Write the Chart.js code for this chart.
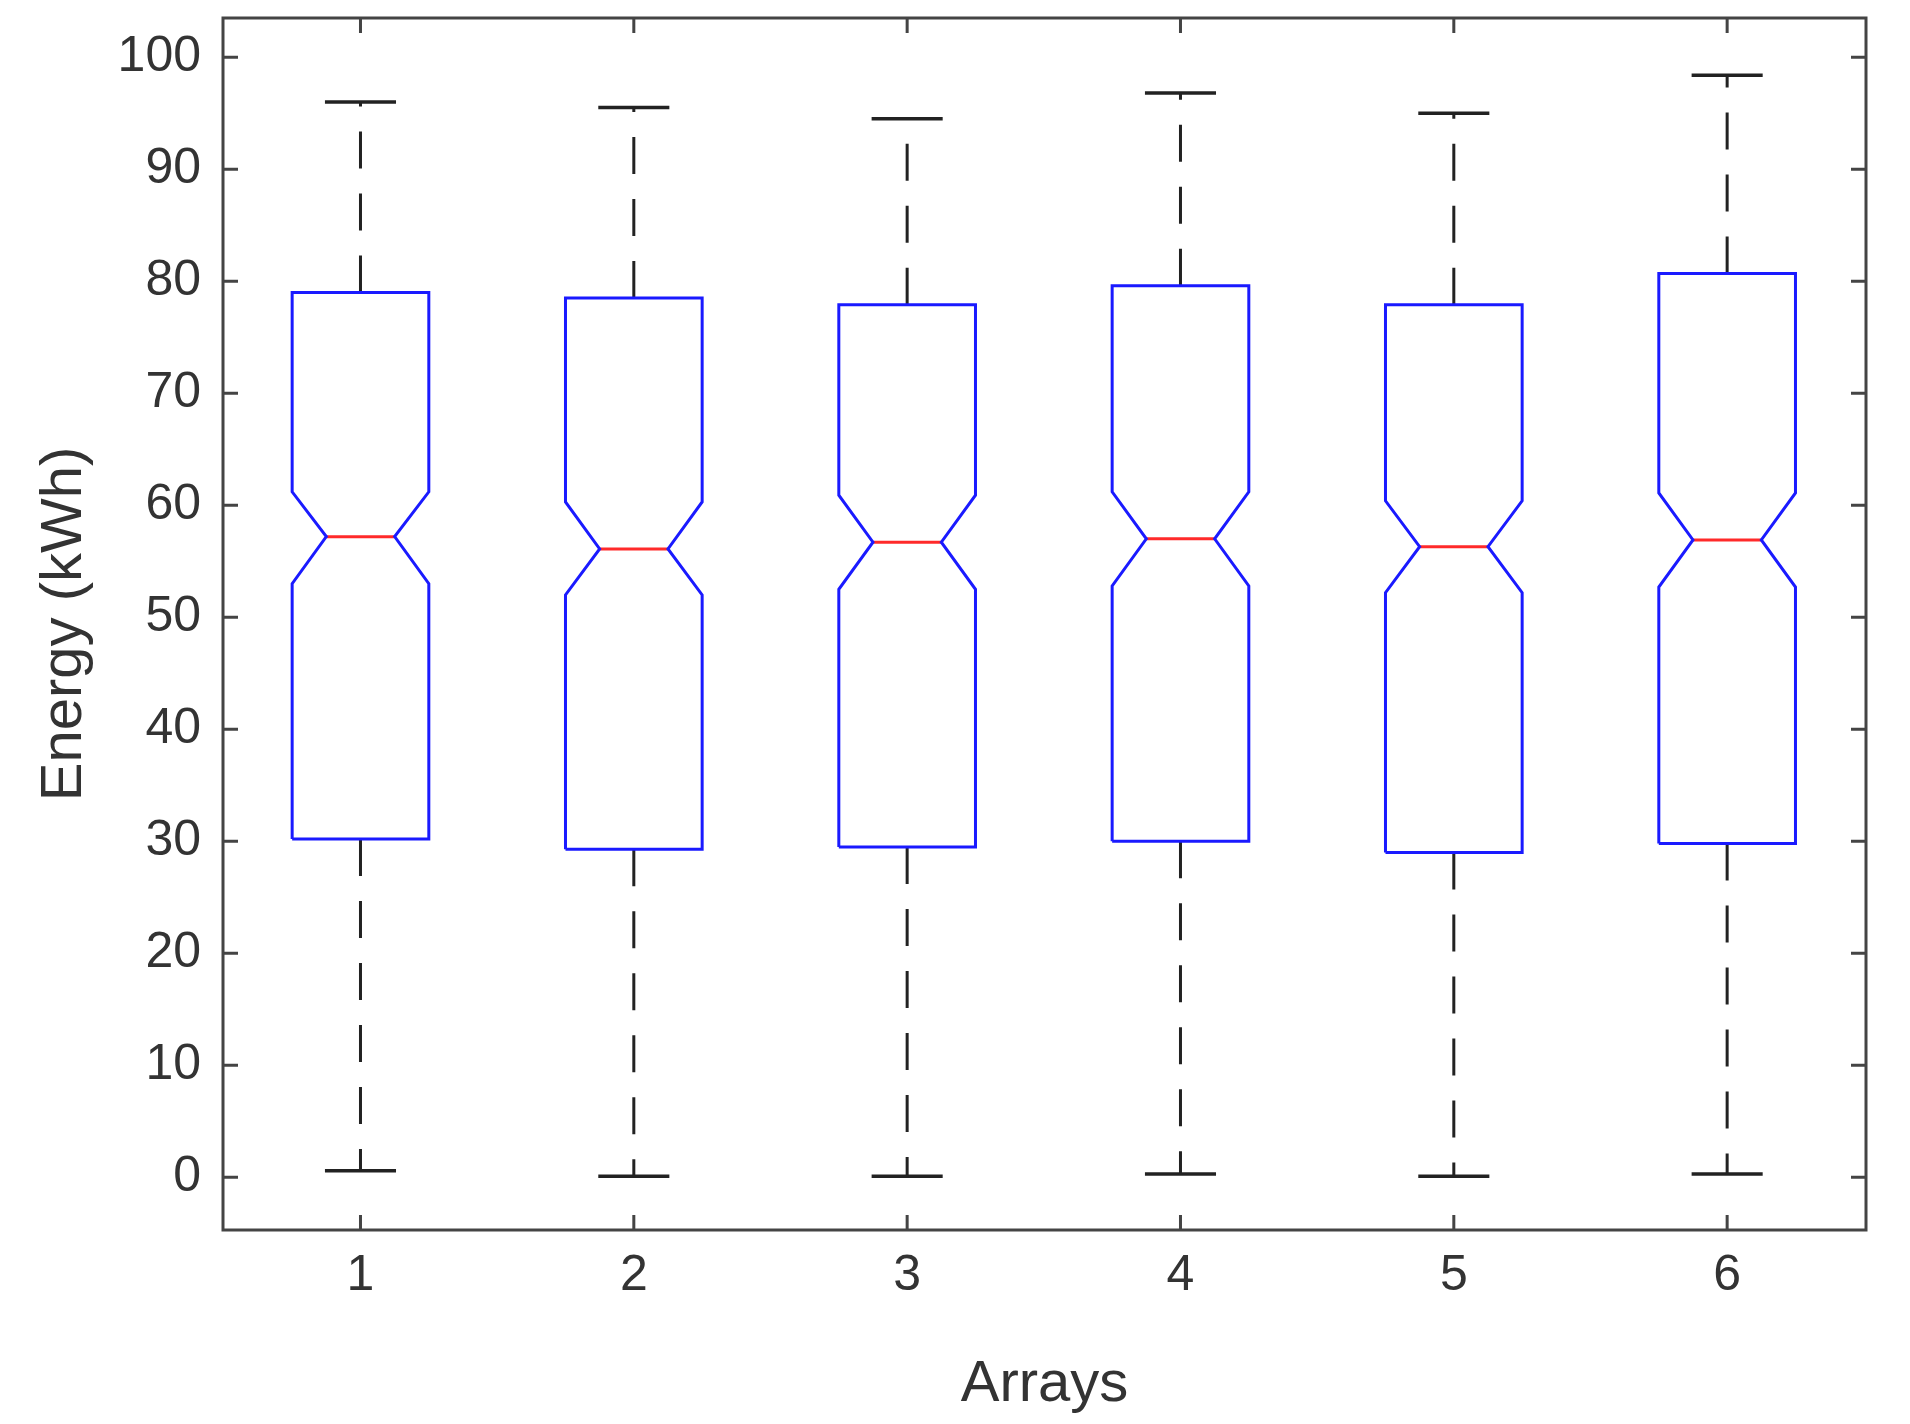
<!DOCTYPE html>
<html>
<head>
<meta charset="utf-8">
<script src="https://cdn.jsdelivr.net/npm/chart.js@4.4.0/dist/chart.umd.min.js"></script>
<style>
  html, body { margin: 0; padding: 0; background: #fff; }
  #wrap { width: 1910px; height: 1424px; }
</style>
</head>
<body>
<div id="wrap"><canvas id="c" width="1910" height="1424"></canvas></div>
<script>
const categories = [1, 2, 3, 4, 5, 6];
const mins    = [0.6, 0.1, 0.1, 0.3, 0.1, 0.3];
const q1s     = [30.2, 29.3, 29.5, 30.0, 29.0, 29.8];
const notchLo = [53.0, 52.0, 52.5, 52.8, 52.2, 52.7];
const medians = [57.2, 56.1, 56.7, 57.0, 56.3, 56.9];
const notchHi = [61.2, 60.3, 60.9, 61.2, 60.4, 61.1];
const q3s     = [79.0, 78.5, 77.9, 79.6, 77.9, 80.7];
const maxs    = [96.0, 95.5, 94.5, 96.8, 95.0, 98.4];
const yTicks = [0, 10, 20, 30, 40, 50, 60, 70, 80, 90, 100];

const halfW = 0.25, notchW = 0.125, capW = 0.13;
const datasets = [];
const line = (data, color, dash, width) => ({
  data, showLine: true, borderColor: color, borderWidth: width || 3,
  borderDash: dash || [], pointRadius: 0, fill: false, tension: 0
});

categories.forEach((c, i) => {
  datasets.push(line([
    { x: c - halfW, y: q1s[i] }, { x: c + halfW, y: q1s[i] },
    { x: c + halfW, y: notchLo[i] }, { x: c + notchW, y: medians[i] },
    { x: c + halfW, y: notchHi[i] }, { x: c + halfW, y: q3s[i] },
    { x: c - halfW, y: q3s[i] }, { x: c - halfW, y: notchHi[i] },
    { x: c - notchW, y: medians[i] }, { x: c - halfW, y: notchLo[i] },
    { x: c - halfW, y: q1s[i] }
  ], "#1a1aff"));
  datasets.push(line([{ x: c - notchW, y: medians[i] }, { x: c + notchW, y: medians[i] }], "#ff2a2a"));
  datasets.push(line([{ x: c, y: q3s[i] }, { x: c, y: maxs[i] }], "#222", [37, 25]));
  datasets.push(line([{ x: c, y: q1s[i] }, { x: c, y: mins[i] }], "#222", [37, 25]));
  datasets.push(line([{ x: c - capW, y: maxs[i] }, { x: c + capW, y: maxs[i] }], "#222", [], 3.5));
  datasets.push(line([{ x: c - capW, y: mins[i] }, { x: c + capW, y: mins[i] }], "#222", [], 3.5));
});

const frame = {
  id: "frame",
  afterDraw(chart) {
    const { ctx, chartArea: a, scales } = chart;
    ctx.save();
    ctx.strokeStyle = "#444";
    ctx.lineWidth = 3;
    ctx.strokeRect(a.left, a.top, a.right - a.left, a.bottom - a.top);
    const t = 15;
    yTicks.forEach(v => {
      const y = scales.y.getPixelForValue(v);
      ctx.beginPath();
      ctx.moveTo(a.left, y); ctx.lineTo(a.left + t, y);
      ctx.moveTo(a.right, y); ctx.lineTo(a.right - t, y);
      ctx.stroke();
    });
    categories.forEach(v => {
      const x = scales.x.getPixelForValue(v);
      ctx.beginPath();
      ctx.moveTo(x, a.bottom); ctx.lineTo(x, a.bottom - t);
      ctx.moveTo(x, a.top); ctx.lineTo(x, a.top + t);
      ctx.stroke();
    });
    ctx.restore();
  }
};

const tickFont = { family: "Arial, 'Liberation Sans', sans-serif", size: 50 };
const titleFont = { family: "Arial, 'Liberation Sans', sans-serif", size: 58 };
new Chart(document.getElementById("c"), {
  type: "scatter",
  data: { datasets },
  plugins: [frame],
  options: {
    responsive: false,
    animation: false,
    layout: { padding: { top: 18, right: 44, left: 0, bottom: 0 } },
    plugins: { legend: { display: false }, tooltip: { enabled: false } },
    scales: {
      x: {
        type: "linear", min: 0.497, max: 6.508,
        afterBuildTicks: s => { s.ticks = categories.map(v => ({ value: v })); },
        afterFit: s => { s.height = 194; s.paddingLeft = 0; s.paddingRight = 0; },
        grid: { display: false, drawTicks: false },
        border: { display: false },
        ticks: { font: tickFont, color: "#333", padding: 16 },
        title: { display: true, text: "Arrays", font: titleFont, color: "#333", padding: { top: 14 } }
      },
      y: {
        min: -4.7, max: 103.5,
        afterBuildTicks: s => { s.ticks = yTicks.map(v => ({ value: v })); },
        afterFit: s => { s.width = 223; s.paddingTop = 0; s.paddingBottom = 0; },
        grid: { display: false, drawTicks: false },
        border: { display: false },
        ticks: { font: tickFont, color: "#333", padding: 22 },
        title: { display: true, text: "Energy (kWh)", font: titleFont, color: "#333", padding: { top: 30, bottom: 0 } }
      }
    }
  }
});
</script>
</body>
</html>
